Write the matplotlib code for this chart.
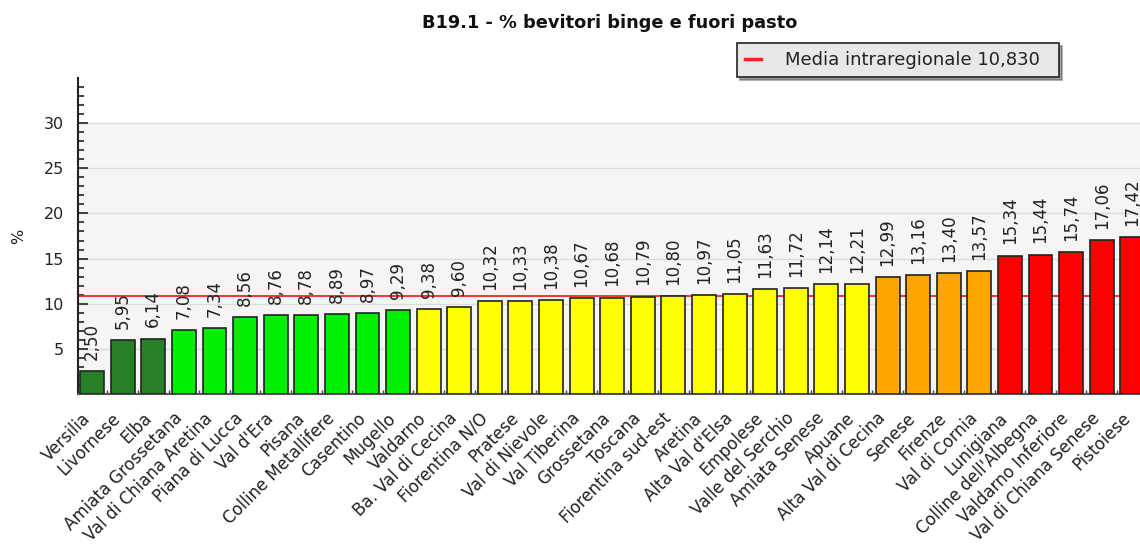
import numpy as np
import matplotlib
matplotlib.use('Agg')
import matplotlib.pyplot as plt
from matplotlib.transforms import ScaledTranslation

# data
zones = ['Versilia', 'Livornese', 'Elba', 'Amiata Grossetana', 'Val di Chiana Aretina',
         'Piana di Lucca', "Val d'Era", 'Pisana', 'Colline Metallifere', 'Casentino',
         'Mugello', 'Valdarno', 'Ba. Val di Cecina', 'Fiorentina N/O', 'Pratese',
         'Val di Nievole', 'Val Tiberina', 'Grossetana', 'Toscana', 'Fiorentina sud-est',
         'Aretina', "Alta Val d'Elsa", 'Empolese', 'Valle del Serchio', 'Amiata Senese',
         'Apuane', 'Alta Val di Cecina', 'Senese', 'Firenze', 'Val di Cornia',
         'Lunigiana', "Colline dell'Albegna", 'Valdarno Inferiore', 'Val di Chiana Senese',
         'Pistoiese']
values = [2.50, 5.95, 6.14, 7.08, 7.34, 8.56, 8.76, 8.78, 8.89, 8.97,
          9.29, 9.38, 9.60, 10.32, 10.33, 10.38, 10.67, 10.68, 10.79, 10.80,
          10.97, 11.05, 11.63, 11.72, 12.14, 12.21, 12.99, 13.16, 13.40, 13.57,
          15.34, 15.44, 15.74, 17.06, 17.42]
# colour class of each bar (0 dark green .. 4 red)
classes = [0]*3 + [1]*8 + [2]*15 + [3]*4 + [4]*5
media = 10.830

palette = ['#277f27', '#00ee00', '#ffff00', '#ffa500', '#ff0000']

plt.rcParams['font.family'] = ['DejaVu Sans']

fig = plt.figure(figsize=(11.4, 5.53), dpi=100)
ax = fig.add_axes([78/1140, 1-394/553, 1-78/1140, (394-78)/553])

x = np.arange(len(zones))
ax.axhspan(0, 30, color='#f5f5f5', zorder=0)
for yv in range(5, 31, 5):
    ax.axhline(yv, color='#dcdcdc', lw=1, zorder=1)
ax.axhline(media, color='#ff2020', lw=1.3, zorder=2, label='Media intraregionale 10,830  ')

ax.bar(x, values, width=0.78, color=[palette[c] for c in classes],
       edgecolor='#222222', linewidth=1.2, zorder=3)

for xi, v in zip(x, values):
    ax.annotate(f'{v:.2f}'.replace('.', ','), (xi, v), xytext=(0, 8),
                textcoords='offset points', rotation=90, ha='center', va='bottom',
                fontsize=12, color='#222222', zorder=4)

ax.set_xlim(-0.46, 34.25)
ax.set_ylim(0, 35)
ax.set_yticks(range(5, 31, 5))
ax.set_yticks(range(0, 35), minor=True)
ax.tick_params(axis='y', direction='in', length=7, width=1.2, labelsize=11.5, colors='#222222', pad=10)
ax.tick_params(axis='y', which='minor', direction='in', length=4, width=1.2, color='#222222')
ax.set_xticks(x)
ax.set_xticklabels(zones, rotation=45, ha='right', rotation_mode='anchor', fontsize=12, color='#222222')
ax.tick_params(axis='x', length=0, pad=11)
# nudge the slanted names left, as in the reference
shift = ScaledTranslation(-11/100, 0, fig.dpi_scale_trans)
for lab in ax.get_xticklabels():
    lab.set_transform(lab.get_transform() + shift)
ax.set_xticks(x[:-1] + 0.5, minor=True)
ax.tick_params(axis='x', which='minor', direction='in', length=3, width=1, color='#444444')

for s in ['top', 'right']:
    ax.spines[s].set_visible(False)
ax.spines['left'].set_linewidth(1.5)
ax.spines['left'].set_color('#222222')
ax.spines['bottom'].set_linewidth(1.5)
ax.spines['bottom'].set_color('#555555')
ax.set_facecolor('white')

ax.set_ylabel('%', fontsize=11.5, color='#222222')
ax.yaxis.set_label_coords(-52/1062, 0.5)

fig.text(0.535, 0.959, 'B19.1 - % bevitori binge e fuori pasto', ha='center', va='center',
         fontsize=12.8, fontweight='bold', color='#111111')

leg = ax.legend(loc='upper left', frameon=True, fancybox=False, shadow=True, fontsize=13,
                handlelength=0.9, borderpad=0.45, handletextpad=1.3, borderaxespad=0)
leg.set_bbox_to_anchor((737/1140, 1-43/553), transform=fig.transFigure)
leg.get_frame().set_facecolor('#e8e8e8')
leg.get_frame().set_edgecolor('#222222')
leg.get_frame().set_linewidth(1.2)
leg.get_lines()[0].set_linewidth(2.5)
for t in leg.get_texts():
    t.set_color('#222222')

fig.savefig('out.png', dpi=100)
